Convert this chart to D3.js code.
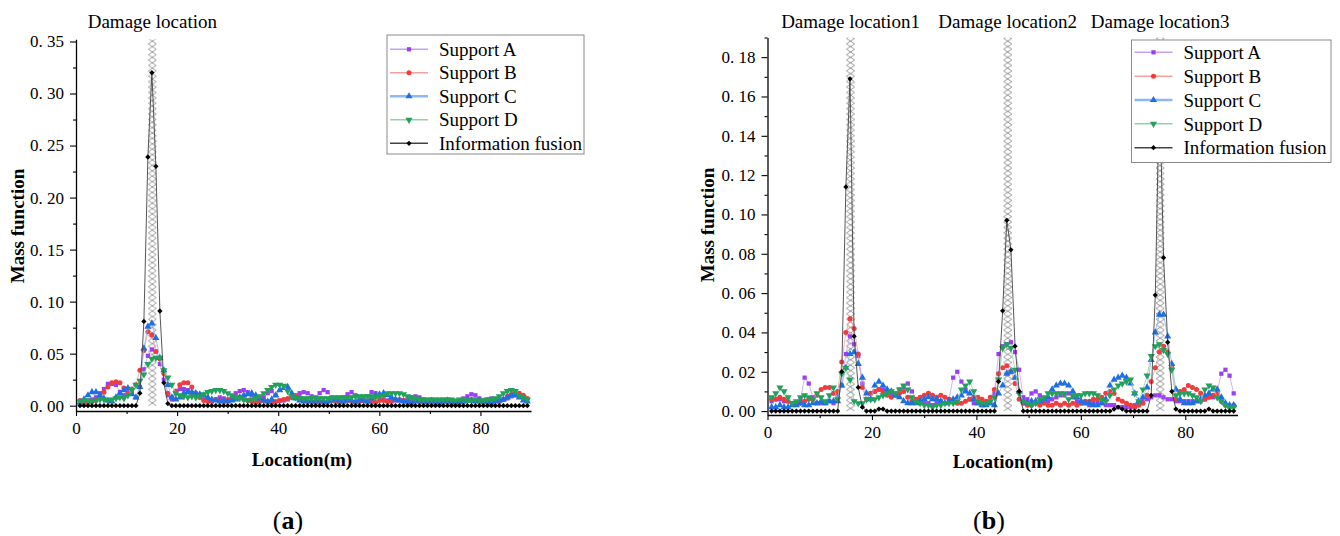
<!DOCTYPE html>
<html><head><meta charset="utf-8">
<script src="https://cdn.jsdelivr.net/npm/d3@7"></script>
<style>
body{margin:0;background:#fff}
svg{display:block}
text{font-family:"Liberation Serif","Times New Roman",serif;fill:#000}
</style>
</head><body>
<svg id="c" width="1340" height="536"></svg>
<script>
// ---------- DATA ----------
const locations = d3.range(1, 114).map(i => +(i * 0.79).toFixed(2)); // measurement points (m)
const seriesNames = ["Support A", "Support B", "Support C", "Support D", "Information fusion"];

// panel (a)
const aSupportA = [
0.004,0.003,0.005,0.006,0.008,0.012,0.016,0.021,0.021,0.020,
0.013,0.010,0.016,0.012,0.008,0.018,0.035,0.048,0.054,0.052,
0.040,0.025,0.010,0.006,0.012,0.016,0.016,0.015,0.012,0.010,
0.008,0.006,0.005,0.004,0.006,0.008,0.007,0.005,0.008,0.012,
0.014,0.015,0.013,0.010,0.008,0.006,0.008,0.012,0.014,0.010,
0.005,0.005,0.006,0.008,0.010,0.012,0.013,0.012,0.009,0.008,
0.012,0.015,0.013,0.008,0.006,0.005,0.008,0.011,0.013,0.010,
0.007,0.006,0.009,0.013,0.012,0.008,0.006,0.005,0.004,0.005,
0.005,0.005,0.006,0.008,0.009,0.008,0.006,0.004,0.003,0.003,
0.004,0.005,0.004,0.003,0.004,0.005,0.007,0.009,0.011,0.010,
0.007,0.005,0.006,0.007,0.006,0.005,0.006,0.007,0.009,0.010,
0.010,0.008,0.006];
const aSupportB = [
0.005,0.004,0.003,0.004,0.005,0.008,0.013,0.018,0.022,0.023,
0.022,0.017,0.012,0.016,0.020,0.034,0.053,0.071,0.068,0.052,
0.045,0.031,0.012,0.008,0.014,0.020,0.022,0.022,0.018,0.012,
0.008,0.005,0.004,0.005,0.006,0.005,0.004,0.006,0.007,0.008,
0.008,0.006,0.005,0.004,0.003,0.004,0.005,0.004,0.003,0.004,
0.005,0.006,0.007,0.008,0.009,0.008,0.006,0.004,0.004,0.003,
0.004,0.003,0.004,0.005,0.004,0.003,0.004,0.005,0.004,0.003,
0.004,0.005,0.004,0.004,0.003,0.005,0.005,0.004,0.005,0.006,
0.006,0.005,0.004,0.005,0.005,0.004,0.003,0.004,0.005,0.004,
0.003,0.004,0.004,0.005,0.004,0.003,0.004,0.005,0.006,0.005,
0.004,0.003,0.004,0.004,0.005,0.004,0.006,0.009,0.011,0.012,
0.012,0.010,0.007];
const aSupportC = [
0.003,0.006,0.010,0.013,0.013,0.010,0.007,0.005,0.004,0.008,
0.012,0.015,0.017,0.011,0.008,0.018,0.055,0.076,0.079,0.065,
0.046,0.034,0.020,0.008,0.006,0.008,0.012,0.013,0.013,0.012,
0.011,0.010,0.008,0.006,0.005,0.004,0.005,0.004,0.005,0.006,
0.008,0.010,0.011,0.012,0.010,0.007,0.005,0.004,0.006,0.010,
0.015,0.017,0.018,0.012,0.007,0.005,0.004,0.005,0.004,0.005,
0.005,0.004,0.004,0.005,0.006,0.005,0.004,0.006,0.005,0.004,
0.006,0.005,0.004,0.007,0.010,0.011,0.012,0.010,0.008,0.006,
0.005,0.004,0.004,0.003,0.004,0.005,0.004,0.004,0.005,0.004,
0.003,0.004,0.005,0.004,0.003,0.004,0.004,0.005,0.005,0.004,
0.005,0.004,0.004,0.003,0.004,0.005,0.006,0.008,0.010,0.010,
0.008,0.005,0.004];
const aSupportD = [
0.004,0.005,0.005,0.004,0.005,0.006,0.006,0.005,0.006,0.007,
0.008,0.007,0.010,0.015,0.020,0.024,0.030,0.040,0.045,0.046,
0.046,0.034,0.027,0.020,0.012,0.010,0.009,0.008,0.009,0.008,
0.009,0.011,0.013,0.014,0.015,0.015,0.014,0.012,0.010,0.008,
0.007,0.006,0.005,0.006,0.007,0.009,0.012,0.015,0.018,0.020,
0.020,0.019,0.014,0.009,0.008,0.007,0.007,0.007,0.007,0.007,
0.007,0.007,0.007,0.007,0.008,0.008,0.008,0.008,0.008,0.009,
0.009,0.009,0.009,0.009,0.008,0.009,0.010,0.012,0.012,0.012,
0.012,0.011,0.009,0.008,0.007,0.006,0.006,0.006,0.006,0.006,
0.006,0.006,0.006,0.006,0.005,0.006,0.006,0.005,0.005,0.006,
0.005,0.005,0.006,0.006,0.007,0.009,0.012,0.014,0.015,0.014,
0.010,0.008,0.006];
const aFusion = [
0,0,0,0,0,0,0,0,0,0,
0,0,0,0,0,0.012,0.081,0.239,0.320,0.230,
0.091,0.022,0.002,0,0,0,0,0,0,0,
0,0,0,0,0,0,0,0,0,0,
0,0,0,0,0,0,0,0,0,0,
0,0,0,0,0,0,0,0,0,0,
0,0,0,0,0,0,0,0,0,0,
0,0,0,0,0,0,0,0,0,0,
0,0,0,0,0,0,0,0,0,0,
0,0,0,0,0,0,0,0,0,0,
0,0,0,0,0,0,0,0,0,0,
0,0,0];

// panel (b)
const bSupportA = [
0.005,0.006,0.006,0.005,0.005,0.004,0.004,0.006,0.017,0.014,
0.007,0.004,0.004,0.004,0.005,0.004,0.008,0.013,0.029,0.038,
0.034,0.028,0.014,0.006,0.009,0.010,0.011,0.011,0.010,0.009,
0.009,0.011,0.012,0.014,0.010,0.006,0.004,0.004,0.004,0.003,
0.004,0.005,0.004,0.006,0.017,0.020,0.015,0.011,0.006,0.004,
0.004,0.003,0.004,0.004,0.009,0.029,0.033,0.034,0.035,0.030,
0.021,0.007,0.006,0.009,0.010,0.008,0.006,0.005,0.006,0.007,
0.008,0.008,0.009,0.007,0.005,0.004,0.004,0.003,0.004,0.004,
0.004,0.003,0.003,0.003,0.002,0.002,0.002,0.002,0.003,0.004,
0.005,0.006,0.007,0.008,0.008,0.007,0.006,0.006,0.005,0.005,
0.005,0.005,0.005,0.005,0.005,0.006,0.007,0.007,0.010,0.019,
0.021,0.018,0.009];
const bSupportB = [
0.006,0.006,0.007,0.006,0.005,0.004,0.004,0.004,0.005,0.006,
0.006,0.008,0.011,0.012,0.012,0.009,0.010,0.025,0.040,0.047,
0.042,0.029,0.012,0.006,0.009,0.010,0.011,0.010,0.008,0.007,
0.008,0.009,0.010,0.007,0.005,0.006,0.007,0.008,0.009,0.008,
0.007,0.008,0.007,0.006,0.005,0.004,0.004,0.005,0.006,0.007,
0.007,0.006,0.005,0.007,0.011,0.019,0.022,0.023,0.020,0.014,
0.006,0.004,0.003,0.003,0.004,0.003,0.004,0.003,0.003,0.004,
0.003,0.004,0.003,0.004,0.003,0.004,0.005,0.005,0.006,0.006,
0.007,0.009,0.010,0.009,0.006,0.005,0.004,0.003,0.002,0.003,
0.004,0.008,0.015,0.022,0.030,0.033,0.030,0.022,0.006,0.010,
0.011,0.013,0.012,0.011,0.009,0.006,0.007,0.008,0.009,0.005,
0.003,0.002,0.003];
const bSupportC = [
0.002,0.002,0.003,0.002,0.002,0.003,0.003,0.004,0.003,0.003,
0.004,0.004,0.005,0.004,0.005,0.005,0.005,0.013,0.022,0.029,
0.030,0.024,0.017,0.009,0.006,0.013,0.015,0.013,0.011,0.010,
0.008,0.007,0.005,0.004,0.004,0.004,0.005,0.006,0.007,0.006,
0.006,0.005,0.004,0.005,0.006,0.007,0.008,0.010,0.009,0.006,
0.004,0.003,0.003,0.004,0.003,0.009,0.013,0.019,0.020,0.017,
0.010,0.005,0.004,0.005,0.005,0.005,0.006,0.007,0.011,0.013,
0.014,0.014,0.013,0.010,0.007,0.005,0.004,0.004,0.003,0.003,
0.004,0.006,0.013,0.016,0.017,0.018,0.017,0.014,0.009,0.005,
0.007,0.012,0.026,0.040,0.049,0.049,0.038,0.024,0.011,0.006,
0.004,0.004,0.004,0.005,0.006,0.008,0.009,0.011,0.011,0.007,
0.004,0.003,0.003];
const bSupportD = [
0.007,0.009,0.012,0.010,0.007,0.004,0.005,0.007,0.008,0.007,
0.006,0.009,0.007,0.005,0.008,0.012,0.006,0.019,0.022,0.016,
0.005,0.004,0.004,0.006,0.006,0.006,0.007,0.008,0.009,0.010,
0.009,0.011,0.013,0.011,0.007,0.005,0.004,0.003,0.003,0.002,
0.003,0.003,0.004,0.004,0.004,0.005,0.011,0.013,0.015,0.010,
0.005,0.004,0.004,0.005,0.007,0.016,0.032,0.034,0.032,0.021,
0.009,0.005,0.004,0.003,0.004,0.006,0.007,0.009,0.009,0.009,
0.009,0.009,0.006,0.008,0.008,0.008,0.009,0.009,0.009,0.008,
0.006,0.005,0.008,0.011,0.013,0.014,0.015,0.016,0.009,0.005,
0.011,0.018,0.028,0.033,0.034,0.031,0.029,0.021,0.008,0.009,
0.009,0.009,0.008,0.007,0.005,0.011,0.013,0.012,0.007,0.005,
0.003,0.002,0.002];
const bFusion = [
0,0,0,0,0,0,0,0,0,0,
0,0,0,0,0,0,0,0.020,0.114,0.169,
0.038,0.012,0.002,0,0,0,0.001,0.001,0,0,
0,0,0,0,0,0,0,0,0,0,
0,0,0,0,0,0,0,0,0,0,
0,0,0,0,0,0.015,0.051,0.097,0.082,0.033,
0.010,0,0,0,0,0,0,0,0,0,
0,0,0,0,0,0,0,0,0,0,
0,0,0,0.001,0.002,0.001,0,0,0,0,
0,0,0.008,0.059,0.165,0.078,0.035,0.010,0.001,0,
0,0,0,0,0,0,0.001,0,0,0,
0,0,0];

const xMajorTicks = [0, 20, 40, 60, 80];
const xMinorTicks = [10, 30, 50, 70];
const yMajorTicksA = [0, 0.05, 0.10, 0.15, 0.20, 0.25, 0.30, 0.35];
const yMinorTicksA = [0.025, 0.075, 0.125, 0.175, 0.225, 0.275, 0.325];
const yMajorTicksB = [0, 0.02, 0.04, 0.06, 0.08, 0.10, 0.12, 0.14, 0.16, 0.18];
const yMinorTicksB = [0.01, 0.03, 0.05, 0.07, 0.09, 0.11, 0.13, 0.15, 0.17, 0.19];
const damageA = [15.1];
const damageB = [15.9, 46.0, 75.2];
const damageTitlesA = ["Damage location"];
const damageTitlesB = ["Damage location1", "Damage location2", "Damage location3"];

// ---------- STYLE ----------
const styles = [
  {sym: d3.symbolSquare,   size: 18, fill: "#9B3FF5", line: "#C7A0FA", rot: 0},
  {sym: d3.symbolCircle,   size: 20, fill: "#F03C3C", line: "#F4A0A0", rot: 0},
  {sym: d3.symbolTriangle, size: 22, fill: "#1F6FE0", line: "#8DB8F0", rot: 0},
  {sym: d3.symbolTriangle, size: 22, fill: "#23A15B", line: "#8FD4AA", rot: 180},
  {sym: d3.symbolSquare,   size: 14, fill: "#000000", line: "#444444", rot: 45}
];

const svg = d3.select("#c");
svg.append("rect").attr("width", 1340).attr("height", 536).attr("fill", "#fff");
const defs = svg.append("defs");
const fmt = v => d3.format(".2f")(v).replace(".", ". ");

function panel(cfg) {
  const g = svg.append("g");
  const x = d3.scaleLinear().domain([0, 90]).range(cfg.xr);
  const y = d3.scaleLinear().domain(cfg.yd).range(cfg.yr);

  // hatched damage columns
  const halfW = 0.78;
  cfg.damage.forEach((d, k) => {
    const x0 = x(d - halfW), w = x(d + halfW) - x0, h = 5.4;
    const pid = cfg.id + "hatch" + k;
    const p = defs.append("pattern").attr("id", pid).attr("patternUnits", "userSpaceOnUse")
      .attr("x", x0).attr("y", y(0)).attr("width", w).attr("height", h);
    p.append("path").attr("d", `M0,0L${w},${h}M${w},0L0,${h}`)
      .attr("stroke", "#7a7a7a").attr("stroke-width", 0.75).attr("fill", "none");
    g.append("rect").attr("x", x0).attr("width", w)
      .attr("y", y(cfg.yd[1])).attr("height", y(0) - y(cfg.yd[1]))
      .attr("fill", `url(#${pid})`);
    g.append("text").attr("x", x(d)).attr("y", 28).attr("text-anchor", "middle")
      .attr("font-size", 19).text(cfg.titles[k]);
  });

  // axes
  const xAxis = g.append("g").attr("transform", `translate(0,${cfg.yr[0]})`)
    .call(d3.axisBottom(x).tickValues(xMajorTicks).tickSize(5).tickSizeOuter(0).tickPadding(6));
  g.append("g").attr("transform", `translate(0,${cfg.yr[0]})`)
    .call(d3.axisBottom(x).tickValues(xMinorTicks).tickSize(3).tickFormat(""))
    .select(".domain").remove();
  const yAxis = g.append("g").attr("transform", `translate(${cfg.xr[0]},0)`)
    .call(d3.axisLeft(y).tickValues(cfg.yMajor).tickSize(6).tickSizeOuter(0).tickPadding(6).tickFormat(fmt));
  g.append("g").attr("transform", `translate(${cfg.xr[0]},0)`)
    .call(d3.axisLeft(y).tickValues(cfg.yMinor).tickSize(3).tickFormat(""))
    .select(".domain").remove();
  g.selectAll(".domain").attr("stroke", "#000").attr("stroke-width", 1.3);
  g.selectAll(".tick line").attr("stroke", "#000").attr("stroke-width", 1.1);
  xAxis.selectAll("text").attr("font-size", 17).style("white-space", "pre");
  yAxis.selectAll("text").attr("font-size", 17).style("white-space", "pre");

  // series
  cfg.series.forEach((vals, s) => {
    const st = styles[s];
    const pts = vals.map((v, i) => [locations[i], v]);
    g.append("path").datum(pts)
      .attr("d", d3.line().x(d => x(d[0])).y(d => y(d[1])))
      .attr("fill", "none").attr("stroke", st.line).attr("stroke-width", s === 4 ? 0.9 : 0.8);
    g.append("g").selectAll("path").data(pts).join("path")
      .attr("d", d3.symbol(st.sym, st.size))
      .attr("transform", d => `translate(${x(d[0])},${y(d[1])}) rotate(${st.rot})`)
      .attr("fill", st.fill);
  });

  // axis titles
  g.append("text").attr("transform", `translate(${cfg.ylabX},${cfg.ylabY}) rotate(-90)`)
    .attr("text-anchor", "middle").attr("font-size", 19).attr("font-weight", "bold").text("Mass function");
  g.append("text").attr("x", cfg.xlabX).attr("y", cfg.xlabY)
    .attr("text-anchor", "middle").attr("font-size", 19).attr("font-weight", "bold").text("Location(m)");

  // panel label
  const pl = g.append("text").attr("x", cfg.xlabX - 14).attr("y", 529).attr("text-anchor", "middle").attr("font-size", 26);
  pl.append("tspan").text("(");
  pl.append("tspan").attr("font-weight", "bold").text(cfg.letter);
  pl.append("tspan").text(")");

  // legend
  const L = cfg.legend;
  const lg = g.append("g");
  lg.append("rect").attr("x", L.x).attr("y", L.y).attr("width", L.w).attr("height", L.h)
    .attr("fill", "#fff").attr("stroke", "#8a8a8a").attr("stroke-width", 1);
  seriesNames.forEach((name, s) => {
    const st = styles[s];
    const yy = L.row0 + s * L.dy;
    lg.append("line").attr("x1", L.x + 3).attr("x2", L.x + 41).attr("y1", yy).attr("y2", yy)
      .attr("stroke", st.line).attr("stroke-width", s === 2 ? 2.5 : 1.5);
    lg.append("path").attr("d", d3.symbol(st.sym, st.size))
      .attr("transform", `translate(${L.x + 22},${yy}) rotate(${st.rot})`).attr("fill", st.fill);
    lg.append("text").attr("x", L.x + 52).attr("y", yy).attr("dy", "0.35em")
      .attr("font-size", 19).text(name);
  });
}

panel({
  id: "a", letter: "a",
  xr: [76, 531], yd: [-0.0051, 0.3521], yr: [411, 39.3],
  yMajor: yMajorTicksA, yMinor: yMinorTicksA,
  series: [aSupportA, aSupportB, aSupportC, aSupportD, aFusion],
  damage: damageA, titles: damageTitlesA,
  ylabX: 24, ylabY: 226, xlabX: 302, xlabY: 466,
  legend: {x: 387, y: 35, w: 197, h: 119, row0: 49.3, dy: 23.5}
});
panel({
  id: "b", letter: "b",
  xr: [767.5, 1237.5], yd: [-0.002, 0.19], yr: [415, 37.5],
  yMajor: yMajorTicksB, yMinor: yMinorTicksB,
  series: [bSupportA, bSupportB, bSupportC, bSupportD, bFusion],
  damage: damageB, titles: damageTitlesB,
  ylabX: 714, ylabY: 225, xlabX: 1003, xlabY: 468,
  legend: {x: 1131.5, y: 40, w: 199.5, h: 122.5, row0: 52.3, dy: 23.85}
});
</script>
</body></html>
